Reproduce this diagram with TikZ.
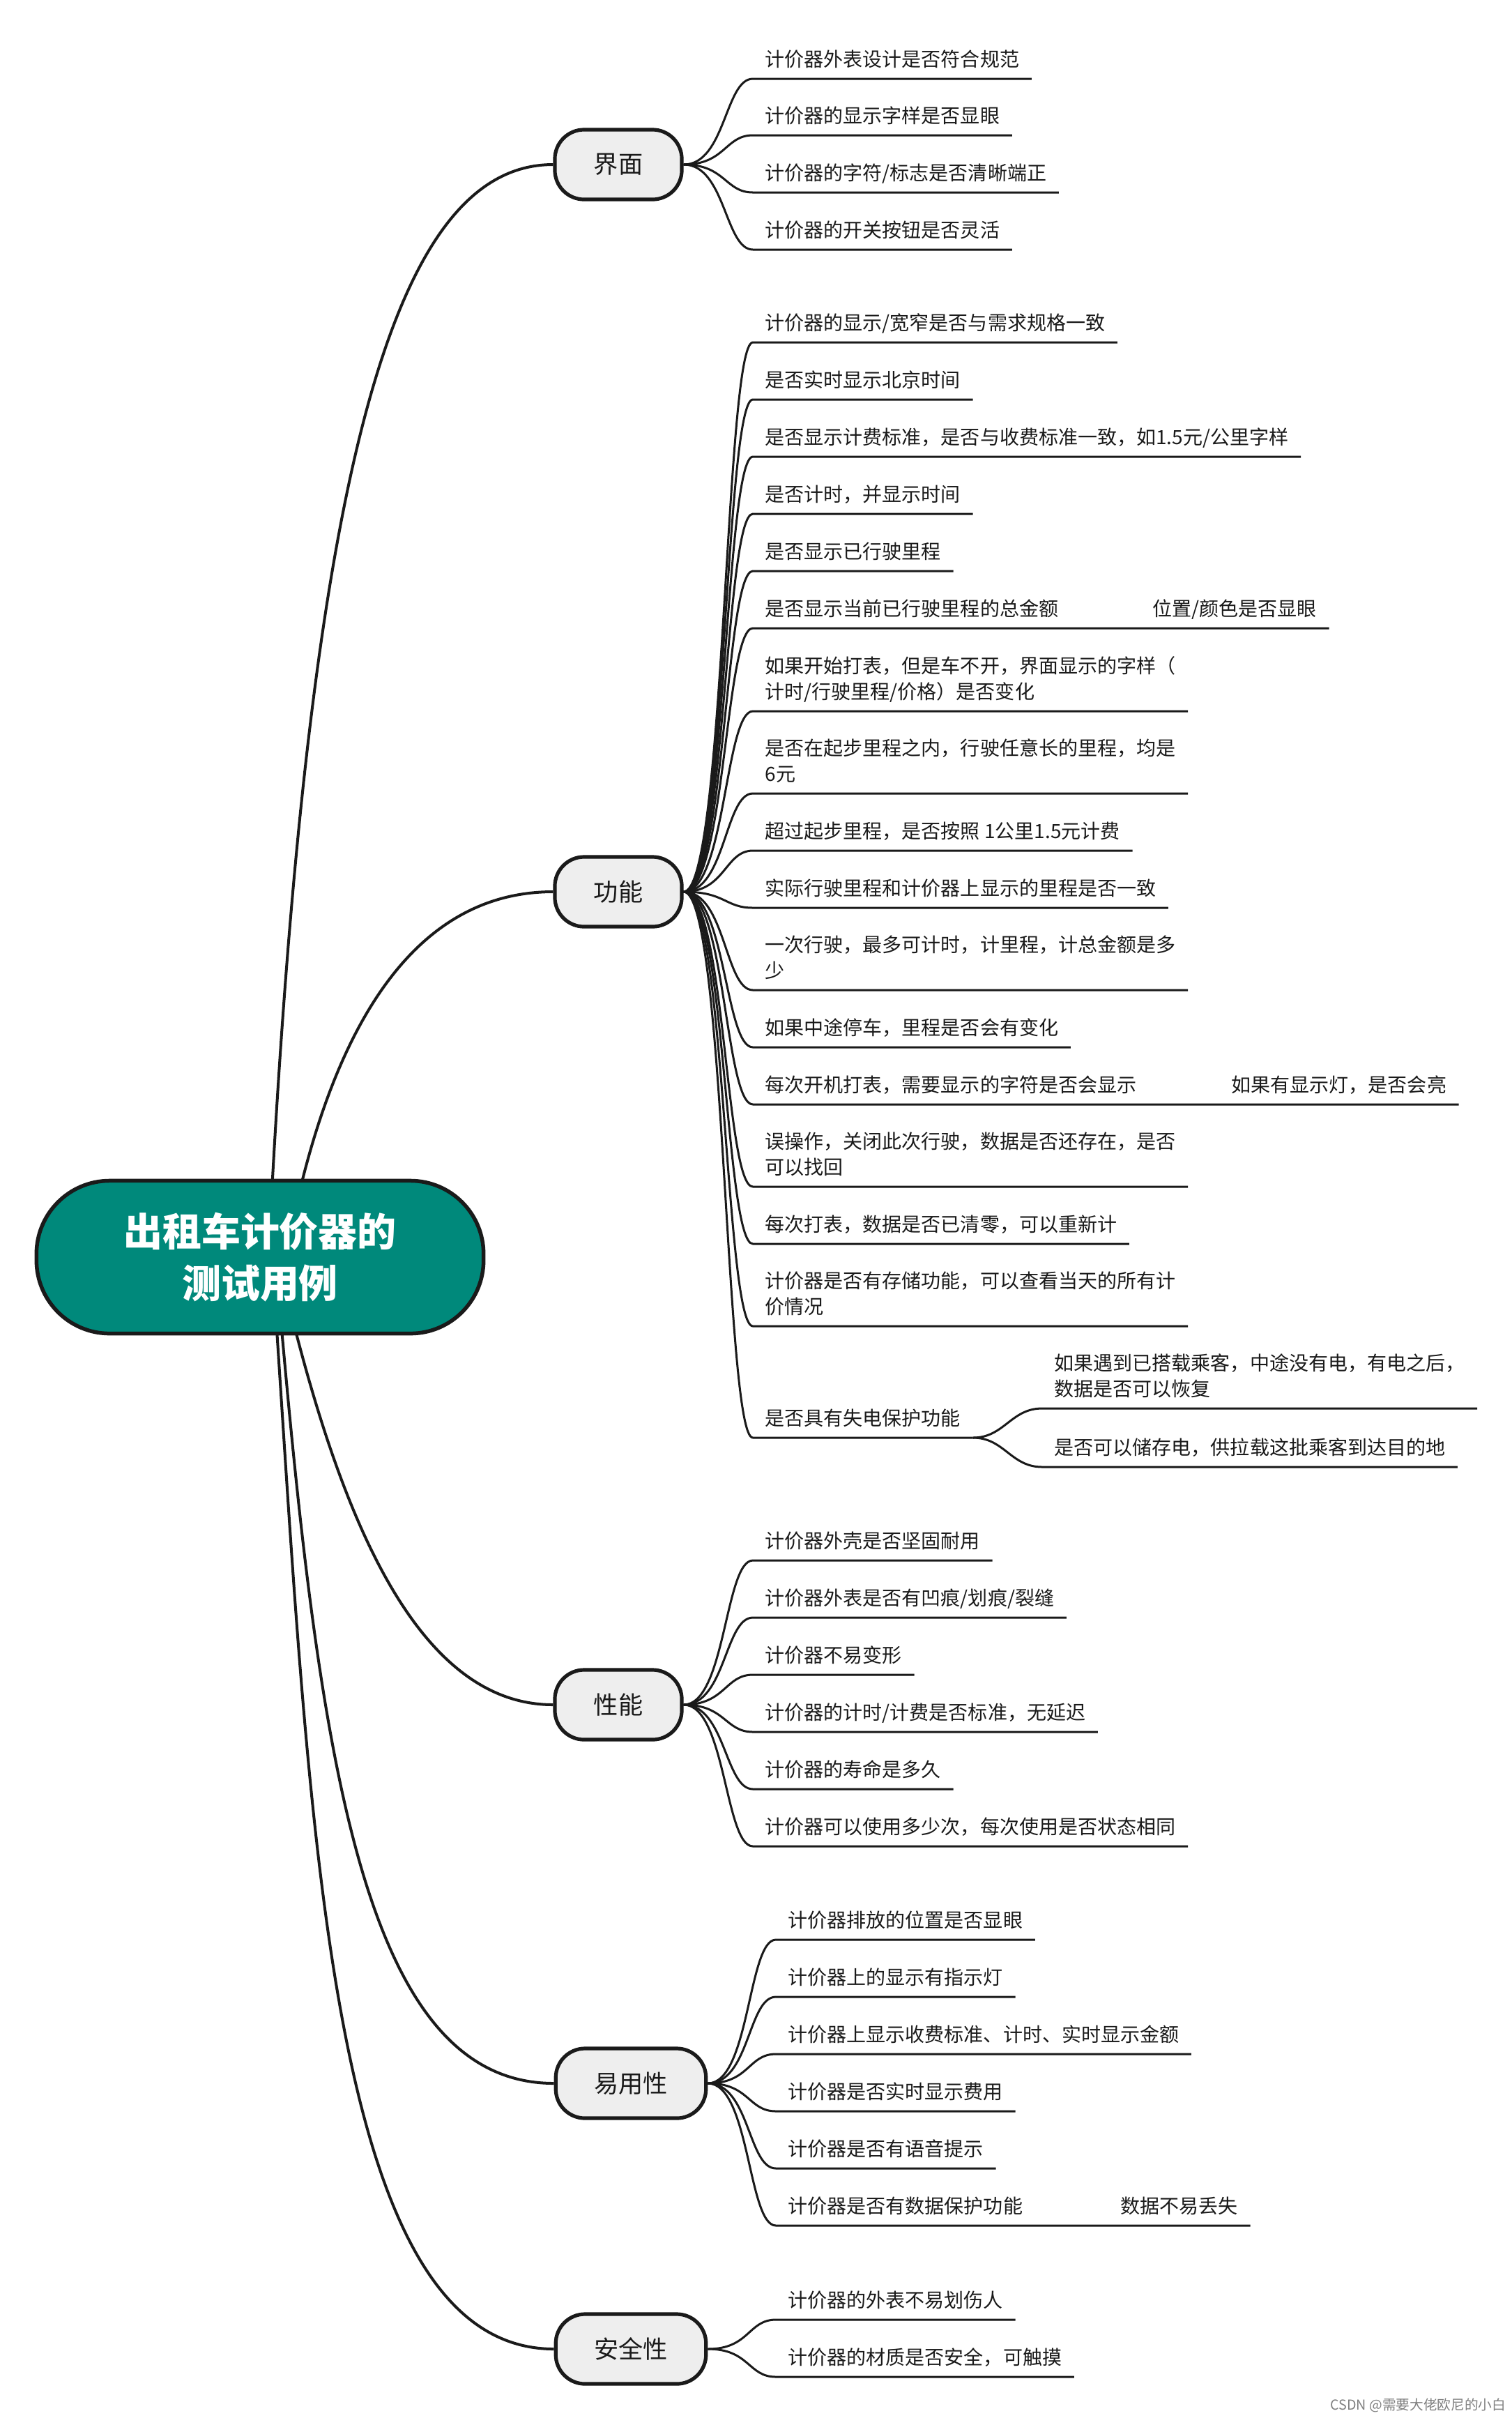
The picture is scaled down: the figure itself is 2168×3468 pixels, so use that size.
\documentclass[tikz,border=0pt]{standalone}
\usepackage{fontspec}
\setmainfont{Noto Sans CJK SC}
\usetikzlibrary{backgrounds}
\definecolor{mapteal}{RGB}{0,137,123}
\definecolor{mapgrey}{RGB}{238,238,238}
\definecolor{mapink}{RGB}{26,26,26}
\newcommand\leaffont{\fontsize{7.97pt}{10.53pt}\selectfont}
\newcommand\topicfont{\fontsize{10pt}{12pt}\selectfont}
\newcommand\rootfont{\fontsize{15.9pt}{20.8pt}\selectfont\bfseries}

\begin{document}
\begin{tikzpicture}[x=0.01cm,y=-0.01cm,
		central/.style={draw=mapink,line width=0.055cm,fill=mapteal,rounded corners=1.05cm,minimum width=6.41cm,minimum height=2.19cm,align=center,text=white,font=\rootfont},
		topic/.style={draw=mapink,line width=0.052cm,fill=mapgrey,rounded corners=0.42cm,minimum width=1.82cm,minimum height=1cm,inner xsep=0.55cm,text=mapink,font=\topicfont},
		leaf/.style={anchor=south west,inner xsep=0.17cm,inner ysep=0.054cm,align=left,text=mapink,font=\leaffont,execute at begin node=\strut,execute at end node=\strut},
		trunk/.style={draw=mapink,line width=0.04cm},
		twig/.style={draw=mapink,line width=0.03cm,line join=round}]
	\path[use as bounding box] (0,0) rectangle (2168,3468);

	% centre and main topics
	\node[central] (taxi) at (373,1803) {出租车计价器的\\测试用例};
	\node[topic] (ui) at (887,236) {界面};
	\node[topic] (func) at (887,1279) {功能};
	\node[topic] (perf) at (887,2445) {性能};
	\node[topic] (ease) at (905,2988) {易用性};
	\node[topic] (safe) at (905,3369) {安全性};

	\begin{scope}[on background layer]
		\fill[white] (0,0) rectangle (2168,3468);
		\draw[trunk] ([xshift=0.12cm]taxi.center) .. controls +(55,-1105) and +(-236,0) .. (ui.west);
		\draw[trunk] ([xshift=0.37cm]taxi.center) .. controls +(60,-330) and +(-200,0) .. (func.west);
		\draw[trunk] ([xshift=0.25cm]taxi.center) .. controls +(70,300) and +(-220,0) .. (perf.west);
		\draw[trunk] ([xshift=0.22cm]taxi.center) .. controls +(60,700) and +(-280,0) .. (ease.west);
		\draw[trunk] ([xshift=0.17cm]taxi.center) .. controls +(55,800) and +(-330,0) .. (safe.west);
	\end{scope}

	% 界面
	\node[leaf] (ui1) at (1080,113) {计价器外表设计是否符合规范};
	\node[leaf] (ui2) at (1080,194) {计价器的显示字样是否显眼};
	\node[leaf] (ui3) at (1080,276) {计价器的字符/标志是否清晰端正};
	\node[leaf] (ui4) at (1080,358) {计价器的开关按钮是否灵活};
	\draw[twig] (ui.east) .. controls +(60,0) and +(-40,0) .. (ui1.south west) -- (ui1.south east);
	\draw[twig] (ui.east) .. controls +(60,0) and +(-40,0) .. (ui2.south west) -- (ui2.south east);
	\draw[twig] (ui.east) .. controls +(60,0) and +(-40,0) .. (ui3.south west) -- (ui3.south east);
	\draw[twig] (ui.east) .. controls +(60,0) and +(-40,0) .. (ui4.south west) -- (ui4.south east);

	% 功能
	\node[leaf] (fn1) at (1080,491) {计价器的显示/宽窄是否与需求规格一致};
	\node[leaf] (fn2) at (1080,573) {是否实时显示北京时间};
	\node[leaf] (fn3) at (1080,655) {是否显示计费标准，是否与收费标准一致，如1.5元/公里字样};
	\node[leaf] (fn4) at (1080,737) {是否计时，并显示时间};
	\node[leaf] (fn5) at (1080,819) {是否显示已行驶里程};
	\node[leaf] (fn6) at (1080,901) {是否显示当前已行驶里程的总金额};
	\node[leaf] (fn6b) at (1636,901) {位置/颜色是否显眼};
	\node[leaf] (fn7) at (1080,1020) {如果开始打表，但是车不开，界面显示的字样（\\计时/行驶里程/价格）是否变化};
	\node[leaf] (fn8) at (1080,1138) {是否在起步里程之内，行驶任意长的里程，均是\\6元};
	\node[leaf] (fn9) at (1080,1220) {超过起步里程，是否按照 1公里1.5元计费};
	\node[leaf] (fn10) at (1080,1302) {实际行驶里程和计价器上显示的里程是否一致};
	\node[leaf] (fn11) at (1080,1420) {一次行驶，最多可计时，计里程，计总金额是多\\少};
	\node[leaf] (fn12) at (1080,1502) {如果中途停车，里程是否会有变化};
	\node[leaf] (fn13) at (1080,1584) {每次开机打表，需要显示的字符是否会显示};
	\node[leaf] (fn13b) at (1749,1584) {如果有显示灯，是否会亮};
	\node[leaf] (fn14) at (1080,1702) {误操作，关闭此次行驶，数据是否还存在，是否\\可以找回};
	\node[leaf] (fn15) at (1080,1784) {每次打表，数据是否已清零，可以重新计};
	\node[leaf] (fn16) at (1080,1902) {计价器是否有存储功能，可以查看当天的所有计\\价情况};
	\node[leaf] (fn17) at (1080,2062) {是否具有失电保护功能};
	\node[leaf] (fn17a) at (1495,2020) {如果遇到已搭载乘客，中途没有电，有电之后，\\数据是否可以恢复};
	\node[leaf] (fn17b) at (1495,2104) {是否可以储存电，供拉载这批乘客到达目的地};
	\draw[twig] (func.east) .. controls +(60,0) and +(-40,0) .. (fn1.south west) -- (fn1.south east);
	\draw[twig] (func.east) .. controls +(60,0) and +(-40,0) .. (fn2.south west) -- (fn2.south east);
	\draw[twig] (func.east) .. controls +(60,0) and +(-40,0) .. (fn3.south west) -- (fn3.south east);
	\draw[twig] (func.east) .. controls +(60,0) and +(-40,0) .. (fn4.south west) -- (fn4.south east);
	\draw[twig] (func.east) .. controls +(60,0) and +(-40,0) .. (fn5.south west) -- (fn5.south east);
	\draw[twig] (func.east) .. controls +(60,0) and +(-40,0) .. (fn6.south west) -- (fn6.south east) -- (fn6b.south west) -- (fn6b.south east);
	\draw[twig] (func.east) .. controls +(60,0) and +(-40,0) .. (fn7.south west) -- (fn7.south east);
	\draw[twig] (func.east) .. controls +(60,0) and +(-40,0) .. (fn8.south west) -- (fn8.south east);
	\draw[twig] (func.east) .. controls +(60,0) and +(-40,0) .. (fn9.south west) -- (fn9.south east);
	\draw[twig] (func.east) .. controls +(60,0) and +(-40,0) .. (fn10.south west) -- (fn10.south east);
	\draw[twig] (func.east) .. controls +(60,0) and +(-40,0) .. (fn11.south west) -- (fn11.south east);
	\draw[twig] (func.east) .. controls +(60,0) and +(-40,0) .. (fn12.south west) -- (fn12.south east);
	\draw[twig] (func.east) .. controls +(60,0) and +(-40,0) .. (fn13.south west) -- (fn13.south east) -- (fn13b.south west) -- (fn13b.south east);
	\draw[twig] (func.east) .. controls +(60,0) and +(-40,0) .. (fn14.south west) -- (fn14.south east);
	\draw[twig] (func.east) .. controls +(60,0) and +(-40,0) .. (fn15.south west) -- (fn15.south east);
	\draw[twig] (func.east) .. controls +(60,0) and +(-40,0) .. (fn16.south west) -- (fn16.south east);
	\draw[twig] (func.east) .. controls +(60,0) and +(-40,0) .. (fn17.south west) -- (fn17.south east);
	\draw[twig] (fn17.south east) .. controls +(45,0) and +(-45,0) .. (fn17a.south west) -- (fn17a.south east);
	\draw[twig] (fn17.south east) .. controls +(45,0) and +(-45,0) .. (fn17b.south west) -- (fn17b.south east);

	% 性能
	\node[leaf] (pf1) at (1080,2238) {计价器外壳是否坚固耐用};
	\node[leaf] (pf2) at (1080,2320) {计价器外表是否有凹痕/划痕/裂缝};
	\node[leaf] (pf3) at (1080,2402) {计价器不易变形};
	\node[leaf] (pf4) at (1080,2484) {计价器的计时/计费是否标准，无延迟};
	\node[leaf] (pf5) at (1080,2566) {计价器的寿命是多久};
	\node[leaf] (pf6) at (1080,2648) {计价器可以使用多少次，每次使用是否状态相同};
	\draw[twig] (perf.east) .. controls +(60,0) and +(-40,0) .. (pf1.south west) -- (pf1.south east);
	\draw[twig] (perf.east) .. controls +(60,0) and +(-40,0) .. (pf2.south west) -- (pf2.south east);
	\draw[twig] (perf.east) .. controls +(60,0) and +(-40,0) .. (pf3.south west) -- (pf3.south east);
	\draw[twig] (perf.east) .. controls +(60,0) and +(-40,0) .. (pf4.south west) -- (pf4.south east);
	\draw[twig] (perf.east) .. controls +(60,0) and +(-40,0) .. (pf5.south west) -- (pf5.south east);
	\draw[twig] (perf.east) .. controls +(60,0) and +(-40,0) .. (pf6.south west) -- (pf6.south east);

	% 易用性
	\node[leaf] (ea1) at (1113,2782) {计价器排放的位置是否显眼};
	\node[leaf] (ea2) at (1113,2864) {计价器上的显示有指示灯};
	\node[leaf] (ea3) at (1113,2946) {计价器上显示收费标准、计时、实时显示金额};
	\node[leaf] (ea4) at (1113,3028) {计价器是否实时显示费用};
	\node[leaf] (ea5) at (1113,3110) {计价器是否有语音提示};
	\node[leaf] (ea6) at (1113,3192) {计价器是否有数据保护功能};
	\node[leaf] (ea6b) at (1590,3192) {数据不易丢失};
	\draw[twig] (ease.east) .. controls +(60,0) and +(-40,0) .. (ea1.south west) -- (ea1.south east);
	\draw[twig] (ease.east) .. controls +(60,0) and +(-40,0) .. (ea2.south west) -- (ea2.south east);
	\draw[twig] (ease.east) .. controls +(60,0) and +(-40,0) .. (ea3.south west) -- (ea3.south east);
	\draw[twig] (ease.east) .. controls +(60,0) and +(-40,0) .. (ea4.south west) -- (ea4.south east);
	\draw[twig] (ease.east) .. controls +(60,0) and +(-40,0) .. (ea5.south west) -- (ea5.south east);
	\draw[twig] (ease.east) .. controls +(60,0) and +(-40,0) .. (ea6.south west) -- (ea6.south east) -- (ea6b.south west) -- (ea6b.south east);

	% 安全性
	\node[leaf] (sf1) at (1113,3327) {计价器的外表不易划伤人};
	\node[leaf] (sf2) at (1113,3409) {计价器的材质是否安全，可触摸};
	\draw[twig] (safe.east) .. controls +(60,0) and +(-40,0) .. (sf1.south west) -- (sf1.south east);
	\draw[twig] (safe.east) .. controls +(60,0) and +(-40,0) .. (sf2.south west) -- (sf2.south east);

	\node[anchor=east,inner sep=0,text=gray,font=\fontsize{5.6pt}{7pt}\selectfont] (credit) at (2161,3450) {CSDN @需要大佬欧尼的小白};
\end{tikzpicture}
\end{document}
